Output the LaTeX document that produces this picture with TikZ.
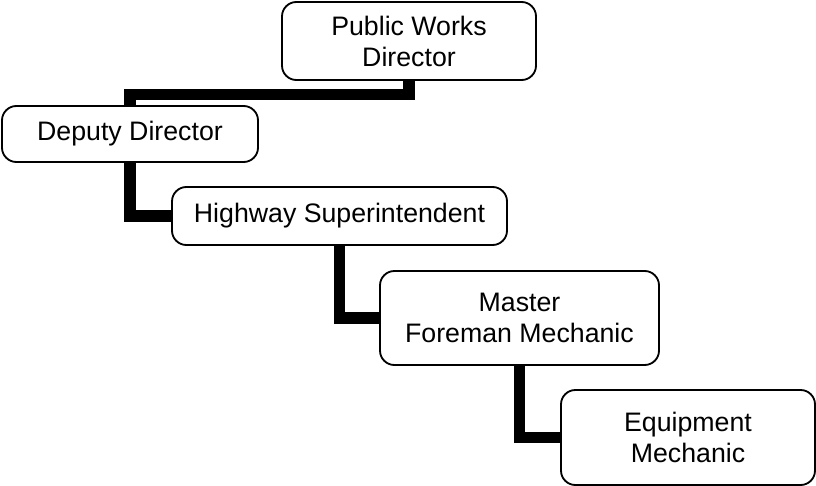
\documentclass[tikz,border=0pt]{standalone}
\usepackage{fontspec}
\setmainfont{Liberation Sans}
\begin{document}
\begin{tikzpicture}[
			x=0.025cm, y=-0.025cm,
			post/.style = {draw, line width=1.3pt, rounded corners=0.36cm, align=center,
				font=\fontsize{19}{22}\selectfont, inner sep=0pt},
			link/.style = {line width=0.285cm, line cap=butt, line join=miter},
			]
			\useasboundingbox (0,0) rectangle (816,486);
			\node[post, minimum width=254*0.025cm, minimum height=78*0.025cm] (pwd) at (409,41) {Public Works\\Director};
			\node[post, minimum width=256*0.025cm, minimum height=56*0.025cm] (dep) at (130,134) {Deputy Director};
			\node[post, minimum width=335*0.025cm, minimum height=58*0.025cm] (hwy) at (339.5,216) {Highway Superintendent};
			\node[post, minimum width=279*0.025cm, minimum height=94*0.025cm] (mfm) at (519.5,318) {Master\\Foreman Mechanic};
			\node[post, minimum width=254*0.025cm, minimum height=95*0.025cm] (eqp) at (688,437.5) {Equipment\\Mechanic};
			% reporting lines
			\draw[link] (pwd.south) -- ++(0,13.5) -| (dep.north);
			\draw[link] (dep.south) |- (hwy.west);
			\draw[link] (hwy.south) |- (mfm.west);
			\draw[link] (mfm.south) |- (eqp.west);
		\end{tikzpicture}
\end{document}
